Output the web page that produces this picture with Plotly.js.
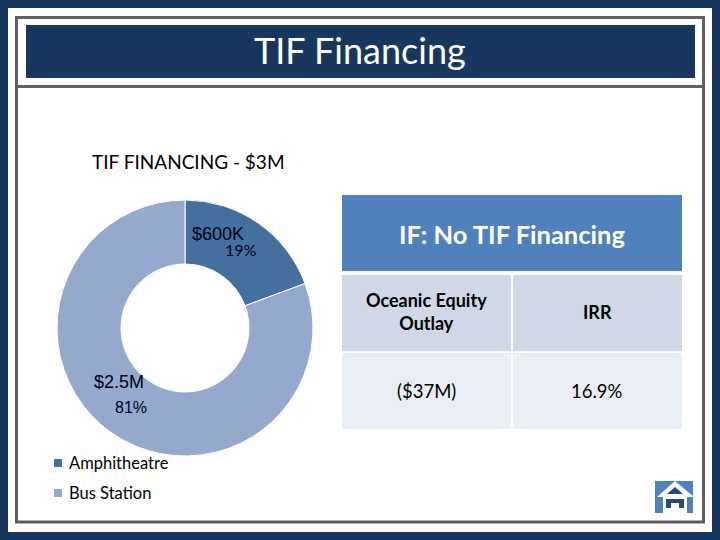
<!DOCTYPE html>
<html><head><meta charset="utf-8">
<script src="https://cdn.plot.ly/plotly-3.0.1.min.js"></script>
<style>html,body{margin:0;padding:0;background:#fff}#c{width:720px;height:540px}</style>
</head><body><div id="c"></div>
<script>
const slideTitle = "TIF Financing";
const chartTitle = "TIF FINANCING - $3M";
const categories = ["Amphitheatre", "Bus Station"];
const values = [0.6, 2.5];
const sliceColors = ["#44709F", "#95A9CF"];
const amountLabels = ["$600K", "$2.5M"];
const percentLabels = ["19%", "81%"];
const tableHeader = "IF: No TIF Financing";
const tableColumns = ["Oceanic Equity<br>Outlay", "IRR"];
const tableValues = ["($37M)", "16.9%"];

const W = 720, H = 540;
const px = x => x / W, py = y => 1 - y / H;
const sans = "Lato, Carlito, 'Open Sans', sans-serif";
const arial = "'Liberation Sans', Arial, sans-serif";
const shapes = [];
const annotations = [];
function rect(x0, y0, x1, y1, fill, line) {
  shapes.push({type: "rect", xref: "paper", yref: "paper", layer: "below",
    x0: px(x0), x1: px(x1), y0: py(y1), y1: py(y0), fillcolor: fill,
    line: line ? {color: line, width: 3} : {width: 0}});
}
function poly(pts, fill) {
  const p = pts.map((q, i) => (i ? "L" : "M") + px(q[0]) + " " + py(q[1])).join(" ") + " Z";
  shapes.push({type: "path", xref: "paper", yref: "paper", path: p, fillcolor: fill, line: {width: 0}});
}
function text(x, y, t, size, color, family, anchor, bold) {
  annotations.push({xref: "paper", yref: "paper", x: px(x), y: py(y), text: bold ? "<b>" + t + "</b>" : t,
    showarrow: false, xanchor: anchor || "center", yanchor: "middle", align: "center",
    font: {size, color, family}});
}
// frame
rect(0, 0, 720, 540, "#17375E");
rect(8, 8, 712, 532, "#FFFFFF");
rect(16.5, 17.5, 703.5, 522, "#FFFFFF", "#5F5F5F");
rect(16, 85, 704, 88, "#5F5F5F");
rect(26, 25, 695, 78, "#17375E");
text(360, 50, slideTitle, 36, "#FFFFFF", sans);
text(188, 161, chartTitle, 19, "#000000", sans);
// table
rect(342, 195, 682, 271, "#4F81BD");
rect(342, 275, 511, 351, "#D0D8E8");
rect(513, 275, 682, 351, "#D0D8E8");
rect(342, 353, 511, 429, "#E9EDF4");
rect(513, 353, 682, 429, "#E9EDF4");
text(512, 234, tableHeader, 25.5, "#FFFFFF", sans, "center", true);
text(426, 312, tableColumns[0], 18, "#000000", sans, "center", true);
text(597, 312, tableColumns[1], 18, "#000000", sans, "center", true);
text(426, 391, tableValues[0], 18.5, "#000000", sans);
text(597, 391, tableValues[1], 18.5, "#000000", sans);
// slice labels
text(217.5, 234, amountLabels[0], 18, "#000010", arial);
text(241, 249, percentLabels[0], 16, "#000020", sans);
text(118.5, 382, amountLabels[1], 18, "#000010", arial);
text(131, 407, percentLabels[1], 16, "#000020", arial);
// legend
[463, 493].forEach((y, i) => {
  rect(54, y - 4, 62, y + 4, sliceColors[i]);
  text(66.5, y, categories[i], 16.5, "#000000", sans, "left");
});
// home button
rect(655, 481, 693, 513, "#4F81BD");
poly([[675, 481], [694, 497], [657, 497]], "#FFFFFF");
rect(663, 497, 687, 513, "#FFFFFF");
shapes[shapes.length - 1].layer = "above";
poly([[675, 487], [667, 494], [683, 494]], "#2A4A75");
poly([[666, 499], [684, 499], [684, 508], [679, 508], [679, 503], [671, 503], [671, 508], [666, 508]], "#2A4A75");

const data = [{
  type: "pie", labels: categories, values: values, hole: 0.5, sort: false, direction: "clockwise",
  rotation: 0, textinfo: "none", hoverinfo: "label+percent",
  marker: {colors: sliceColors, line: {color: "#FFFFFF", width: 1}},
  domain: {x: [px(57), px(313)], y: [py(456), py(200)]}, showlegend: false
}];
Plotly.newPlot("c", data, {
  width: W, height: H, margin: {l: 0, r: 0, t: 0, b: 0},
  paper_bgcolor: "rgba(0,0,0,0)", showlegend: false, shapes, annotations
}, {displayModeBar: false, staticPlot: true});
</script></body></html>
